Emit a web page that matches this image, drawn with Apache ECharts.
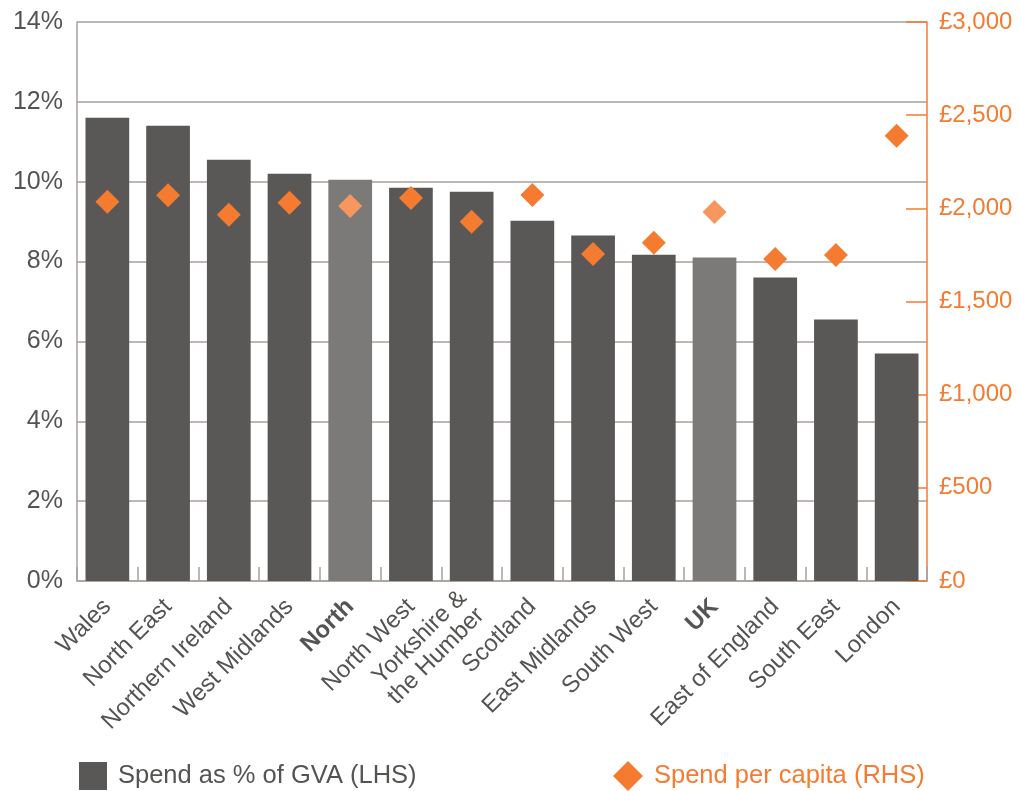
<!DOCTYPE html>
<html>
<head>
<meta charset="utf-8">
<style>
  html, body { margin: 0; padding: 0; background: #fff; }
  #chart { width: 1019px; height: 791px; }
</style>
<script src="https://cdn.jsdelivr.net/npm/echarts@6/dist/echarts.min.js"></script>
</head>
<body>
<div id="chart"></div>
<script>
// Regions, ordered by spend as a share of GVA
const regions = ['Wales', 'North East', 'Northern Ireland', 'West Midlands', 'North',
  'North West', 'Yorkshire &\nthe Humber', 'Scotland', 'East Midlands', 'South West',
  'UK', 'East of England', 'South East', 'London'];

// Spend as % of GVA (left axis)
const spendPctGva = [11.6, 11.4, 10.55, 10.2, 10.05, 9.85, 9.75, 9.02, 8.65, 8.17, 8.1, 7.6, 6.55, 5.7];

// Spend per capita in £ (right axis)
const spendPerCapita = [2035, 2070, 1965, 2030, 2012, 2055, 1928, 2072, 1755, 1815, 1980, 1728, 1750, 2390];

// Aggregate rows drawn in a lighter shade
const aggregates = ['North', 'UK'];

const leftTicks = [0, 2, 4, 6, 8, 10, 12, 14];
const rightTicks = [0, 500, 1000, 1500, 2000, 2500, 3000];

const DARK = '#5a5856', LIGHT = '#7b7a79';
const ORANGE = '#f47b30', ORANGE_LIGHT = '#f7965e';
const GRID = '#a7a19c', TEXT = '#555452';
const FONT = '"Liberation Sans", Arial, Helvetica, sans-serif';

const barData = spendPctGva.map((v, i) => ({
  value: v,
  itemStyle: { color: aggregates.includes(regions[i]) ? LIGHT : DARK }
}));
const dotData = spendPerCapita.map((v, i) => ({
  value: v,
  itemStyle: { color: aggregates.includes(regions[i]) ? ORANGE_LIGHT : ORANGE, opacity: 1 }
}));

const chart = echarts.init(document.getElementById('chart'), null, { renderer: 'canvas' });
chart.setOption({
  animation: false,
  textStyle: { fontFamily: FONT },
  grid: { left: 77, right: 92, top: 22, bottom: 210, containLabel: false },
  legend: [
    {
      data: [{ name: 'Spend as % of GVA (LHS)', icon: 'rect', textStyle: { color: TEXT } }],
      left: 79, top: 762, padding: 0, itemWidth: 28, itemHeight: 28, itemGap: 10,
      textStyle: { fontSize: 25.5, fontFamily: FONT, padding: [0, 0, 0, 6] }, selectedMode: false
    },
    {
      data: [{ name: 'Spend per capita (RHS)', icon: 'diamond', textStyle: { color: ORANGE } }],
      left: 613, top: 761, padding: 0, itemWidth: 30, itemHeight: 30, itemGap: 10,
      textStyle: { fontSize: 25.5, fontFamily: FONT, padding: [0, 0, 0, 6] }, selectedMode: false
    }
  ],
  xAxis: {
    type: 'category',
    data: regions,
    boundaryGap: true,
    axisLine: { show: true, lineStyle: { color: GRID, width: 1.5 } },
    axisTick: { show: true, inside: true, length: 14, interval: 0, lineStyle: { color: GRID, width: 1.5 } },
    axisLabel: {
      interval: 0, rotate: 45, margin: 22,
      fontSize: 24, color: TEXT, fontFamily: FONT, lineHeight: 25,
      formatter: v => aggregates.includes(v) ? '{b|' + v + '}' : v,
      rich: { b: { fontWeight: 'bold', fontSize: 24, color: TEXT, fontFamily: FONT } }
    }
  },
  yAxis: [
    {
      type: 'value', min: 0, max: 14, interval: 2, position: 'left',
      axisLine: { show: true, lineStyle: { color: GRID, width: 1.5 } },
      axisTick: { show: false },
      splitLine: { show: true, lineStyle: { color: GRID, width: 1.5 } },
      axisLabel: {
        fontSize: 25, color: TEXT, margin: 14, fontFamily: FONT,
        formatter: v => leftTicks.includes(v) ? v + '%' : ''
      }
    },
    {
      type: 'value', min: 0, max: 3000, interval: 500, position: 'right',
      axisLine: { show: true, lineStyle: { color: ORANGE, width: 1.5 } },
      axisTick: { show: true, inside: true, length: 21, lineStyle: { color: ORANGE, width: 1.5 } },
      splitLine: { show: false },
      axisLabel: {
        fontSize: 24, color: ORANGE, margin: 12, fontFamily: FONT,
        formatter: v => rightTicks.includes(v) ? '£' + v.toLocaleString('en-GB') : ''
      }
    }
  ],
  series: [
    {
      name: 'Spend as % of GVA (LHS)',
      type: 'bar', yAxisIndex: 0, barWidth: '72%',
      itemStyle: { color: DARK },
      data: barData
    },
    {
      name: 'Spend per capita (RHS)',
      type: 'scatter', yAxisIndex: 1,
      symbol: 'diamond', symbolSize: 24,
      itemStyle: { color: ORANGE, opacity: 1 },
      data: dotData
    }
  ]
});
</script>
</body>
</html>
